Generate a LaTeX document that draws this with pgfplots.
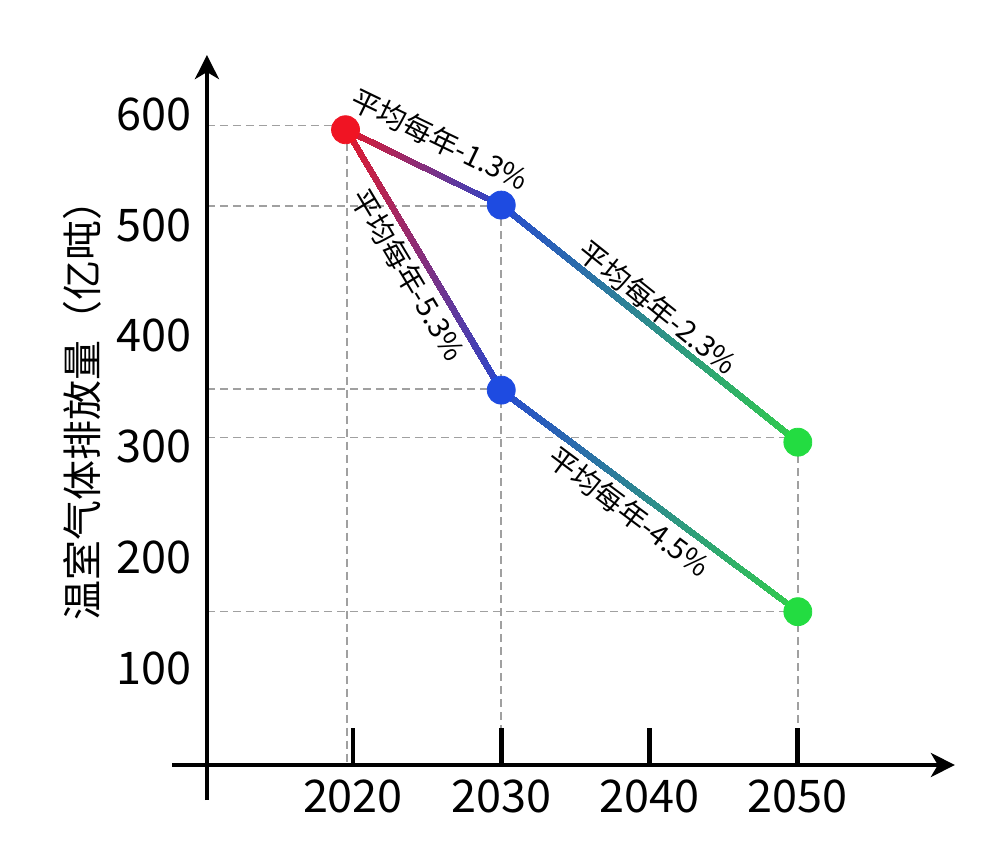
\documentclass[border=0pt]{standalone}
\usepackage{fontspec}
\setmainfont{Noto Sans CJK SC}
\usepackage{pgfplots}
\pgfplotsset{compat=1.18}
\usetikzlibrary{arrows.meta}
\definecolor{cred}{RGB}{240,20,35}
\definecolor{cblue}{RGB}{30,75,225}
\definecolor{cgreen}{RGB}{35,220,65}
\definecolor{cdash}{RGB}{160,160,160}
\pgfplotsset{
  colormap={redblue}{rgb255=(225,25,45) rgb255=(40,70,205)},
  colormap={bluegreen}{rgb255=(40,75,205) rgb255=(50,205,75)},
}
\begin{document}
\begin{tikzpicture}
\begin{axis}[
  scale only axis, width=374pt, height=355pt,
  xmin=2010.155, xmax=2060.59, ymin=12.64, ymax=653.4,
  axis x line=bottom, axis y line=left,
  axis on top,
  x axis line style={line width=2.2pt, -{Stealth[length=12pt,width=12pt,inset=3.5pt]}},
  y axis line style={line width=2.2pt, -{Stealth[length=12pt,width=12pt,inset=3.5pt]}},
  xtick={2020,2030,2040,2050}, xticklabels={2020,2030,2040,2050},
  ytick={100,200,300,400,500,600}, yticklabels={100,200,300,400,500,600},
  xtick align=inside, ytick align=inside, major tick length=18.5pt,
  xtick style={line width=2.4pt, black},
  ytick style={draw=none},
  ticklabel style={font=\fontsize{22.5}{27}\selectfont, inner sep=0pt},
  xticklabel style={yshift=-7pt},
  yticklabel style={xshift=-7.5pt},
  /pgf/number format/assume math mode=true,
  clip=false,
  point meta min=0, point meta max=1,
]
% dashed reference lines
\addplot[cdash, line width=0.75pt, dash pattern=on 4pt off 2.5pt] coordinates {(2010.155,590) (2019.5,590)};
\addplot[cdash, line width=0.75pt, dash pattern=on 4pt off 2.5pt] coordinates {(2010.155,517) (2030,517)};
\addplot[cdash, line width=0.75pt, dash pattern=on 4pt off 2.5pt] coordinates {(2010.155,352) (2030,352)};
\addplot[cdash, line width=0.75pt, dash pattern=on 4pt off 2.5pt] coordinates {(2010.155,308) (2050,308)};
\addplot[cdash, line width=0.75pt, dash pattern=on 4pt off 2.5pt] coordinates {(2010.155,151) (2050,151)};
\addplot[cdash, line width=0.75pt, dash pattern=on 4pt off 2.5pt] coordinates {(2019.6,586) (2019.6,12.64)};
\addplot[cdash, line width=0.75pt, dash pattern=on 4pt off 2.5pt] coordinates {(2030,518) (2030,12.64)};
\addplot[cdash, line width=0.75pt, dash pattern=on 4pt off 2.5pt] coordinates {(2050,304) (2050,12.64)};
% gradient lines (thin shaded bands)
\addplot[patch, patch type=rectangle, shader=interp, colormap name=redblue, point meta=explicit]
  coordinates {(2019.5,589) [0] (2030,521) [1] (2030,515) [1] (2019.5,583) [0]};
\addplot[patch, patch type=rectangle, shader=interp, colormap name=redblue, point meta=explicit]
  coordinates {(2019.5,591.2) [0] (2030,356.2) [1] (2030,345.8) [1] (2019.5,580.8) [0]};
\addplot[patch, patch type=rectangle, shader=interp, colormap name=bluegreen, point meta=explicit]
  coordinates {(2030,521.5) [0] (2050,307.5) [1] (2050,300.5) [1] (2030,514.5) [0]};
\addplot[patch, patch type=rectangle, shader=interp, colormap name=bluegreen, point meta=explicit]
  coordinates {(2030,354.4) [0] (2050,154.4) [1] (2050,147.6) [1] (2030,347.6) [0]};
% annotations
\addplot[draw=none] coordinates {(2019.5,586) (2030,518)}
  node[pos=0.515, sloped, above=9.25pt, inner sep=0pt, font=\fontsize{14.5}{17}\selectfont] {平均每年-1.3\%};
\addplot[draw=none] coordinates {(2019.5,586) (2030,351)}
  node[pos=0.516, sloped, below=3.25pt, inner sep=0pt, font=\fontsize{14.5}{17}\selectfont] {平均每年-5.3\%};
\addplot[draw=none] coordinates {(2030,518) (2050,304)}
  node[pos=0.491, sloped, above=2pt, inner sep=0pt, font=\fontsize{14.5}{17}\selectfont] {平均每年-2.3\%};
\addplot[draw=none] coordinates {(2030,351) (2050,151)}
  node[pos=0.474, sloped, below=3.5pt, inner sep=0pt, font=\fontsize{14.5}{17}\selectfont] {平均每年-4.5\%};
% points
\addplot[only marks, mark=*, mark size=7pt, mark options={draw=cred, fill=cred}] coordinates {(2019.5,586)};
\addplot[only marks, mark=*, mark size=7pt, mark options={draw=cblue, fill=cblue}] coordinates {(2030,518) (2030,351)};
\addplot[only marks, mark=*, mark size=7pt, mark options={draw=cgreen, fill=cgreen}] coordinates {(2050,304) (2050,151)};
% axis extensions
\draw[line width=2.2pt] (axis cs:2007.8,12.64) -- (axis cs:2010.4,12.64);
\draw[line width=2.2pt] (axis cs:2010.155,-19) -- (axis cs:2010.155,15);
% y label
\node[rotate=90, font=\fontsize{20}{24}\selectfont] at (axis cs:2001.73,342) {温室气体排放量（亿吨）};
% canvas extent
\path (axis cs:1996.2,-76.7) rectangle (axis cs:2063.7,703.1);
\end{axis}
\end{tikzpicture}
\end{document}
